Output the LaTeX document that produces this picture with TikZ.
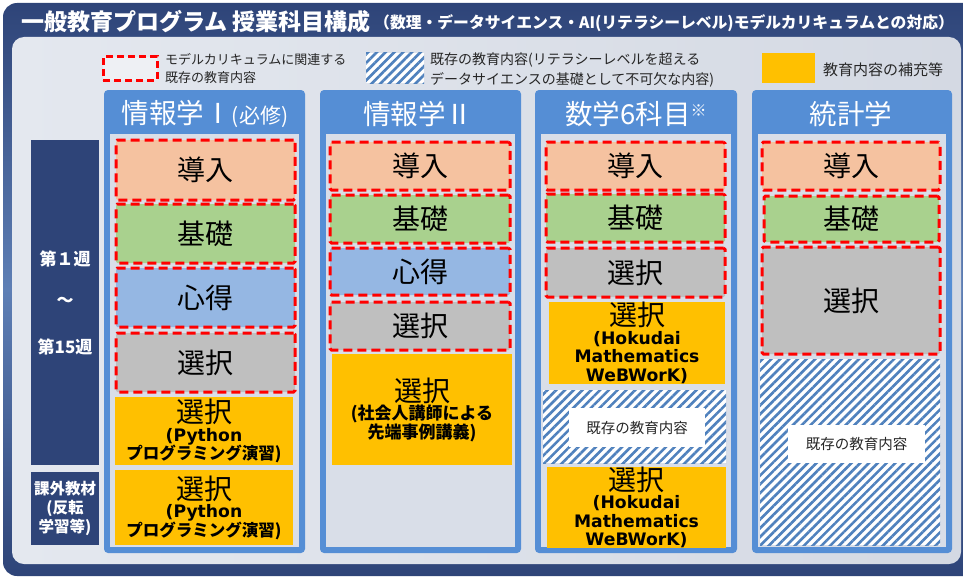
\documentclass[tikz,border=0pt]{standalone}
\usepackage{fontspec}
\setmainfont{Noto Sans CJK JP}
\newfontfamily\dvs{DejaVu Sans}
\usetikzlibrary{patterns.meta}
\definecolor{navy}{HTML}{2E4478}
\definecolor{navylt}{HTML}{5E7FB5}
\definecolor{panelL}{HTML}{E4E8EF}
\definecolor{panelR}{HTML}{D4D9E3}
\definecolor{colblue}{HTML}{558ED5}
\definecolor{colin}{HTML}{D9DEE8}
\definecolor{peach}{HTML}{F5C2A0}
\definecolor{lgreen}{HTML}{A9D18E}
\definecolor{lblue}{HTML}{95B7E3}
\definecolor{lgray}{HTML}{BFBFBF}
\definecolor{gold}{HTML}{FFC000}
\definecolor{hatchblue}{HTML}{4F81BD}
\definecolor{legfill}{HTML}{EEF0F4}
\newcommand\selbig{{\mdseries\fontsize{28}{28}\selectfont 選択}}
\newcommand\lb[1]{{\dvs\bfseries\fontsize{17.2}{18}\selectfont #1}}
\newcommand\jb[1]{{\bfseries\fontsize{16.5}{18}\selectfont #1}}
\begin{document}
\begin{tikzpicture}[x=1pt,y=-1pt,
  rect/.style n args={4}{minimum width=#3pt-#1pt, minimum height=#4pt-#2pt, at={({(#1+#3)/2},{(#2+#4)/2})}},
  box/.style={inner sep=0pt, outer sep=0pt, align=center, font=\fontsize{28}{30}\selectfont},
  rbox/.style={box, draw=red, line width=3pt, dash pattern=on 9pt off 5pt, rounded corners=1.5pt},
  gbox/.style={box, fill=gold, font=\bfseries\fontsize{16}{18.5}\selectfont},
  hatch/.style={inner sep=0pt, outer sep=0pt, preaction={fill=white}, pattern={Lines[angle=45,distance=6.2pt,line width=2.6pt]}, pattern color=hatchblue},
  wlabel/.style={inner sep=0pt, fill=white, font=\fontsize{14.5}{16}\selectfont, text=black!85},
  hdr/.style={text=white, inner sep=0pt, font=\fontsize{27.5}{30}\selectfont},
  navybox/.style={fill=navy, align=center, text=white, inner sep=0pt, font=\bfseries\fontsize{17}{19}\selectfont},
  legtxt/.style={anchor=west, align=left, inner sep=0pt, text=black!85}
]
\useasboundingbox (0,0) rectangle (963,578);
% outer frame and panel
\shade[top color=navy, bottom color=navy, middle color=navylt, rounded corners=14pt] (3,3) rectangle (995,576);
\shade[left color=panelL, right color=panelR, rounded corners=12pt] (12,37) rectangle (961,564);
% title
\node[anchor=west, text=white, inner sep=0pt, font=\bfseries\fontsize{23}{25}\selectfont] (title) at (21,22) {一般教育プログラム 授業科目構成};
\node[anchor=west, text=white, inner sep=0pt, font=\bfseries\fontsize{15.8}{17}\selectfont] (subtitle) at (374,23) {（数理・データサイエンス・AI(リテラシーレベル)モデルカリキュラムとの対応）};
% legend
\node[draw=red, line width=3pt, dash pattern=on 7pt off 4pt, fill=legfill, inner sep=0pt, rect={103}{57}{157}{80}] (lg1) {};
\node[legtxt, font=\fontsize{13}{18}\selectfont] (lt1) at (165,69) {モデルカリキュラムに関連する\\既存の教育内容};
\node[hatch, rect={366}{53}{424}{83}] (lg2) {};
\node[legtxt, font=\fontsize{14}{20}\selectfont] (lt2) at (430,70) {既存の教育内容(リテラシーレベルを超える\\データサイエンスの基礎として不可欠な内容)};
\node[fill=gold, inner sep=0pt, rect={762}{53}{815}{83}] (lg3) {};
\node[legtxt, font=\fontsize{15}{18}\selectfont] (lt3) at (823,70) {教育内容の補充等};
% left labels
\node[navybox, rect={31}{140}{99}{465}] (wk) {第１週\\[22pt]～\\[28pt]第15週};
\node[navybox, font=\bfseries\fontsize{15.5}{19}\selectfont, rect={31}{472}{99}{545}] (ex) {課外教材\\(反転\\学習等)};
% column frames
\foreach \xa/\xb in {104/305, 320/521, 535/737, 752/952}{
  \fill[colblue, rounded corners=4pt] (\xa,90) rectangle (\xb,553);
  \fill[colin] (\xa+6,134) rectangle (\xb-6,547);
}
% headers
\node[hdr] (h1) at (205,114) {情報学Ⅰ{\fontsize{21}{22}\selectfont (必修)}};
\node[hdr] (h2) at (418,114) {情報学Ⅱ};
\node[hdr] (h3) at (636,114) {数学6科目\raisebox{8pt}{\fontsize{16}{16}\selectfont ※}};
\node[hdr] (h4) at (851,114) {統計学};
% column 1
\node[rbox, fill=peach, rect={116}{140}{295}{200}] (c1a) {導入};
\node[rbox, fill=lgreen, rect={116}{204}{295}{263}] (c1b) {基礎};
\node[rbox, fill=lblue, rect={116}{268}{295}{327}] (c1c) {心得};
\node[rbox, fill=lgray, rect={116}{333}{295}{392}] (c1d) {選択};
\node[gbox, rect={115}{397}{293}{465}] (c1e) {\selbig\\\lb{(Python}\\\jb{プログラミング演習)}};
\node[gbox, rect={115}{470}{293}{545}] (c1f) {\selbig\\\lb{(Python}\\\jb{プログラミング演習)}};
% column 2
\node[rbox, fill=peach, rect={330}{142}{510}{190}] (c2a) {導入};
\node[rbox, fill=lgreen, rect={330}{195}{510}{243}] (c2b) {基礎};
\node[rbox, fill=lblue, rect={330}{248}{510}{295}] (c2c) {心得};
\node[rbox, fill=lgray, rect={330}{302}{510}{350}] (c2d) {選択};
\node[gbox, rect={332}{354}{512}{465}] (c2e) {\selbig\\{\bfseries\fontsize{17}{18}\selectfont (社会人講師による}\\{\bfseries\fontsize{17}{18}\selectfont 先端事例講義)}};
% column 3
\node[rbox, fill=peach, rect={546}{142}{725}{190}] (c3a) {導入};
\node[rbox, fill=lgreen, rect={546}{194}{725}{242}] (c3b) {基礎};
\node[rbox, fill=lgray, rect={546}{248}{725}{297}] (c3c) {選択};
\node[gbox, rect={549}{304}{725}{382}] (c3d) {\selbig\\\lb{(Hokudai}\\\lb{Mathematics}\\\lb{WeBWorK)}};
\node[hatch, rect={543}{390}{726}{463}] (c3e) {};
\node[wlabel, rect={569}{408}{705}{447}] (c3el) {既存の教育内容};
\node[gbox, rect={547}{470}{726}{545}] (c3f) {\selbig\\\lb{(Hokudai}\\\lb{Mathematics}\\\lb{WeBWorK)}};
% column 4
\node[rbox, fill=peach, rect={762}{142}{940}{190}] (c4a) {導入};
\node[rbox, fill=lgreen, rect={764}{196}{939}{242}] (c4b) {基礎};
\node[rbox, fill=lgray, rect={762}{247}{940}{354}] (c4c) {選択};
\node[hatch, rect={760}{359}{940}{545}] (c4d) {};
\node[wlabel, rect={788}{425}{925}{463}] (c4dl) {既存の教育内容};
\end{tikzpicture}
\end{document}
